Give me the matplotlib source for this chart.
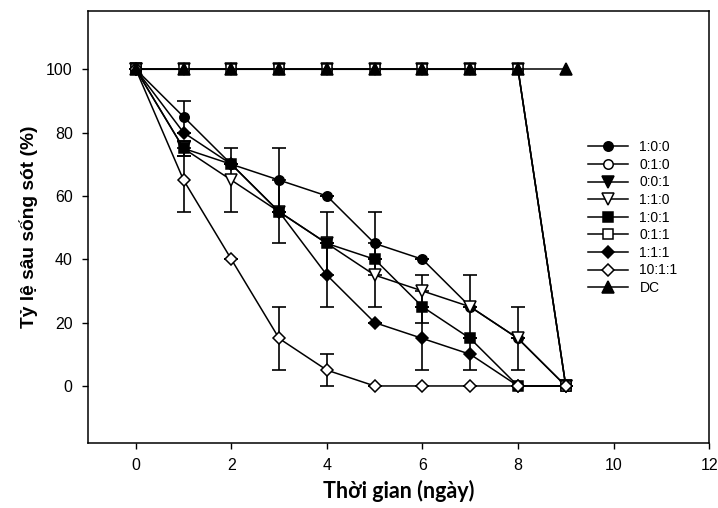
import numpy as np
import matplotlib
matplotlib.use('Agg')
import matplotlib.pyplot as plt

plt.rcParams['font.family'] = ['Liberation Sans', 'DejaVu Sans']

days = [0, 1, 2, 3, 4, 5, 6, 7, 8, 9]

# ty le song (%) theo ngay
s_100 = [100, 85, 70, 65, 60, 45, 40, 25, 15, 0]
e_100 = [0, 5, 0, 10, 0, 10, 0, 0, 0, 0]
s_010 = [100, 100, 100, 100, 100, 100, 100, 100, 100, 0]
s_001 = [100, 100, 100, 100, 100, 100, 100, 100, 100, 0]
s_110 = [100, 75, 65, 55, 45, 35, 30, 25, 15, 0]
e_110 = [0, 2.5, 10, 0, 0, 10, 5, 10, 10, 0]
s_101 = [100, 75, 70, 55, 45, 40, 25, 15, 0, 0]
e_101 = [0, 2.5, 0, 10, 10, 0, 5, 0, 0, 0]
s_011 = [100, 100, 100, 100, 100, 100, 100, 100, 100, 0]
s_111 = [100, 80, 70, 55, 35, 20, 15, 10, 0, 0]
e_111 = [0, 0, 0, 0, 10, 0, 10, 5, 0, 0]
s_1011 = [100, 65, 40, 15, 5, 0, 0, 0, 0, 0]
e_1011 = [0, 10, 0, 10, 5, 0, 0, 0, 0, 0]
s_dc = [100, 100, 100, 100, 100, 100, 100, 100, 100, 100]

series = [
    ('1:0:0', s_100, e_100, 'o', 'black'),
    ('0:1:0', s_010, None, 'o', 'white'),
    ('0:0:1', s_001, None, 'v', 'black'),
    ('1:1:0', s_110, e_110, 'v', 'white'),
    ('1:0:1', s_101, e_101, 's', 'black'),
    ('0:1:1', s_011, None, 's', 'white'),
    ('1:1:1', s_111, e_111, 'D', 'black'),
    ('10:1:1', s_1011, e_1011, 'D', 'white'),
    ('DC', s_dc, None, '^', 'black'),
]
sizes = {'o': 6.8, 'v': 8.3, '^': 8.3, 's': 7, 'D': 6.3}

fig = plt.figure(figsize=(7.18, 5.08), dpi=100)
ax = fig.add_axes([0.1226, 0.128, 0.865, 0.851])

for label, y, err, mk, fc in series:
    if err is not None:
        ax.errorbar(days, y, yerr=err, fmt='none', ecolor='black',
                    elinewidth=1.2, capsize=4.7, capthick=1.2, zorder=2)
    ax.plot(days, y, color='black', lw=1.1, marker=mk, ms=sizes[mk],
            mfc=fc, mec='black', mew=1.1, label=label, zorder=3)

ax.set_xlim(-1, 12)
ax.set_ylim(-18, 118.5)
ax.set_xticks(range(0, 13, 2))
ax.set_yticks(range(0, 101, 20))
ax.tick_params(direction='out', length=4, width=1, labelsize=11.5, pad=7)
for sp in ax.spines.values():
    sp.set_linewidth(1.1)

ax.set_ylabel('Tỷ lệ sâu sống sót (%)', fontsize=13.8, fontweight='bold', labelpad=6)
ax.set_xlabel('Thời gian (ngày)', fontsize=15.5, fontweight='bold',
              family=['Lato', 'DejaVu Sans'], labelpad=5)

ax.legend(loc='upper left', bbox_to_anchor=(0.819, 0.724),
          bbox_transform=fig.transFigure, frameon=False, fontsize=10,
          handlelength=2.9, handletextpad=0.8, labelspacing=0.26,
          borderpad=0, borderaxespad=0)

fig.savefig('out.png', dpi=100)
